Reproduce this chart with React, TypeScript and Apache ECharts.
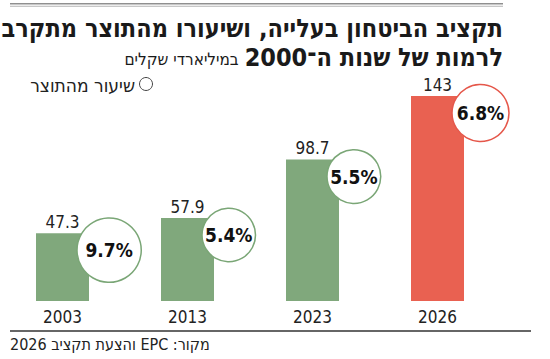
import React, { useEffect, useRef } from "react";
import * as echarts from "echarts";

const years = ["2003", "2013", "2023", "2026"];
const budget = [47.3, 57.9, 98.7, 143];
const gdpShare = [9.7, 5.4, 5.5, 6.8];
const highlightIndex = 3;

const titleLine1 = "תקציב הביטחון בעלייה, ושיעורו מהתוצר מתקרב";
const titleLine2Bold = "לרמות של שנות ה־2000";
const titleLine2Regular = "במיליארדי שקלים";
const legendLabel = "שיעור מהתוצר";
const sourceText = "מקור: EPC והצעת תקציב 2026";

const GREEN = "#80a87c";
const GREEN_STROKE = "#7aa676";
const RED = "#e96151";
const RED_STROKE = "#e5574a";
const NUM_FONT = "'DejaVu Sans Condensed', sans-serif";
const HEB_FONT = "'DejaVu Sans Condensed', 'DejaVu Sans', sans-serif";
const RLE = "\u202B";
const PDF = "\u202C";

export default function App() {
  const ref = useRef<HTMLDivElement>(null);
  useEffect(() => {
    if (!ref.current) return;
    const chart = echarts.init(ref.current, null, { renderer: "svg" });
    const halfBar = 26.5;
    const circleData = budget.map((v, i) => {
      const d = 40 + 2.5 * gdpShare[i];
      const r = d / 2;
      return {
        value: [i, v],
        symbolSize: d,
        symbolOffset: [halfBar + r - 12, 17],
        itemStyle: {
          color: "#fff",
          opacity: 1,
          borderColor: i === highlightIndex ? RED_STROKE : GREEN_STROKE,
          borderWidth: 1.5,
        },
        label: {
          show: true,
          position: "inside",
          formatter: gdpShare[i].toFixed(1) + "%",
        },
      };
    });
    chart.setOption({
      animation: false,
      grid: { left: -8, width: 508, top: 86, bottom: 58, containLabel: false },
      xAxis: {
        type: "category",
        data: years,
        axisLine: { show: false },
        axisTick: { show: false },
        axisLabel: { color: "#222", fontSize: 17, fontFamily: NUM_FONT, margin: 7 },
      },
      yAxis: { type: "value", min: 0, max: 150, show: false, splitLine: { show: false } },
      series: [
        {
          type: "bar",
          barWidth: 53,
          data: budget.map((v, i) => ({
            value: v,
            itemStyle: { color: i === highlightIndex ? RED : GREEN },
          })),
          label: {
            show: true,
            position: "top",
            distance: 3,
            color: "#222",
            fontSize: 17,
            fontFamily: NUM_FONT,
          },
          z: 2,
        },
        {
          type: "scatter",
          symbol: "circle",
          data: circleData,
          label: {
            color: "#111",
            fontSize: 19,
            fontWeight: "bold",
            fontFamily: NUM_FONT,
          },
          emphasis: { disabled: true },
          z: 5,
        },
      ],
      graphic: [
        { type: "rect", shape: { x: 10, y: 3, width: 493, height: 1.5 }, style: { fill: "#8f8f8f" } },
        { type: "rect", shape: { x: 10, y: 5.8, width: 493, height: 1 }, style: { fill: "#b5b5b5" } },
        {
          type: "text",
          x: 503,
          y: 28.5,
          style: {
            text: RLE + titleLine1 + PDF,
            align: "right",
            verticalAlign: "middle",
            font: "bold 25px " + HEB_FONT,
            lineHeight: 22,
            fill: "#1a1a1a",
          },
        },
        {
          type: "text",
          x: 503,
          y: 57,
          style: {
            text: "{r|" + titleLine2Regular + "}{b|" + titleLine2Bold + "}",
            align: "right",
            verticalAlign: "middle",
            fill: "#1a1a1a",
            rich: {
              r: { fontSize: 17, fontFamily: HEB_FONT, fill: "#1a1a1a", padding: [3, 6, 0, 0], lineHeight: 20 },
              b: { fontSize: 25, fontWeight: "bold", fontFamily: HEB_FONT, fill: "#1a1a1a", lineHeight: 22 },
            },
          },
        },
        {
          type: "circle",
          shape: { cx: 146, cy: 84, r: 6.5 },
          style: { fill: "#fff", stroke: "#444", lineWidth: 1 },
        },
        {
          type: "text",
          x: 135,
          y: 85,
          style: {
            text: legendLabel,
            align: "right",
            verticalAlign: "middle",
            font: "19px " + HEB_FONT,
            fill: "#222",
          },
        },
        {
          type: "line",
          shape: { x1: 10, y1: 331, x2: 531, y2: 331 },
          style: { stroke: "#333", lineWidth: 1.5 },
        },
        {
          type: "text",
          x: 10,
          y: 344,
          style: {
            text: RLE + sourceText + PDF,
            align: "left",
            verticalAlign: "middle",
            font: "16px " + HEB_FONT,
            fill: "#222",
          },
        },
      ],
    });
    return () => chart.dispose();
  }, []);
  return (
    <div
      ref={ref}
      style={{ position: "fixed", left: 0, top: 0, width: 550, height: 359, background: "#fff" }}
    />
  );
}
